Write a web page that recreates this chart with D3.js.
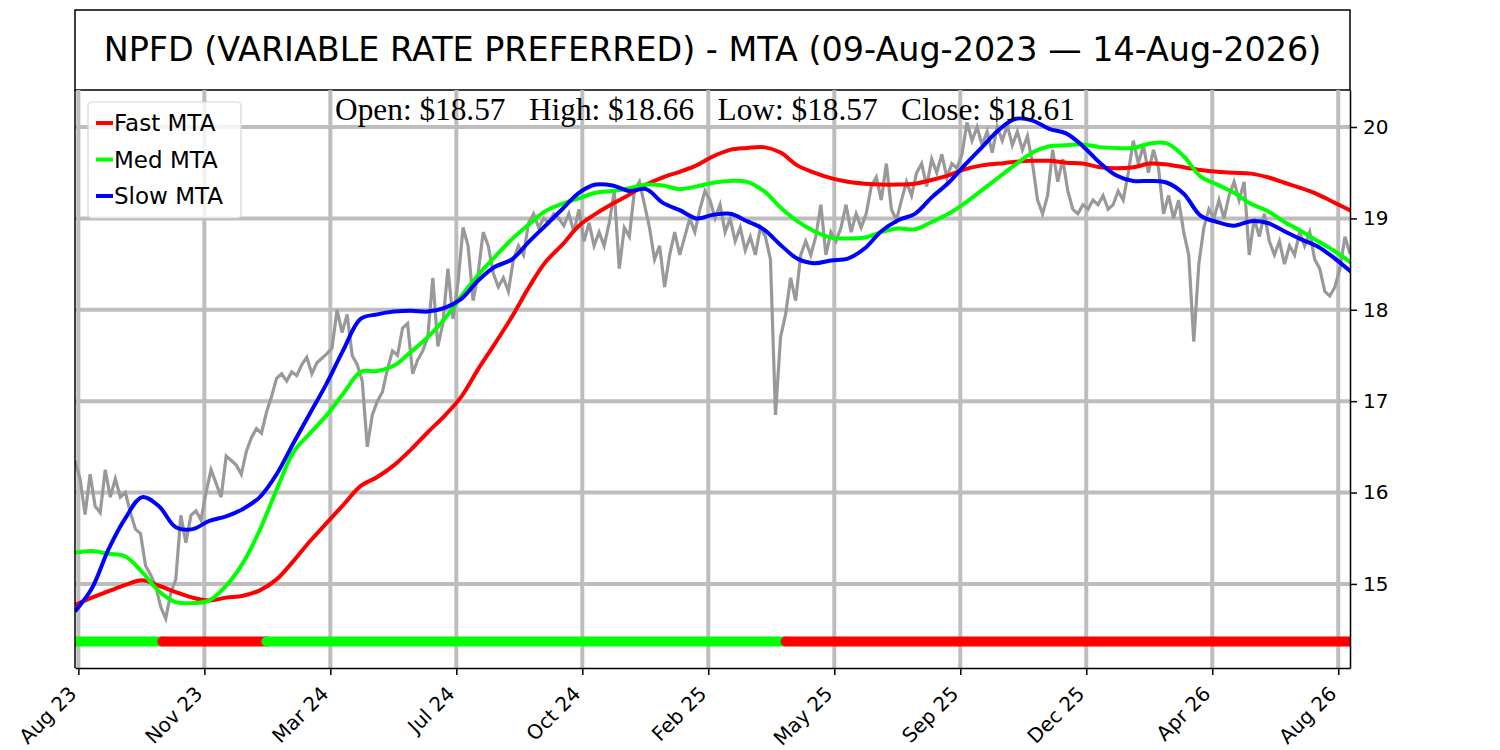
<!DOCTYPE html>
<html>
<head>
<meta charset="utf-8">
<script src="https://cdn.jsdelivr.net/npm/d3@7"></script>
<style>
  body { margin: 0; background: #fff; }
  text { font-family: 'DejaVu Sans', sans-serif; }
</style>
</head>
<body>
<div id="chart-area"></div>
<script>
// NPFD price (every 3rd trading day) and the three MTA lines (every 10th trading day)
const titleText = 'NPFD (VARIABLE RATE PREFERRED) - MTA (09-Aug-2023 \u2014 14-Aug-2026)'
const ohlcText = 'Open: $18.57   High: $18.66   Low: $18.57   Close: $18.61'

const tickDays = [2, 77, 152, 227, 302, 377, 452, 527, 602, 677, 752]
const tickLabels = ['Aug 23', 'Nov 23', 'Mar 24', 'Jul 24', 'Oct 24', 'Feb 25',
  'May 25', 'Sep 25', 'Dec 25', 'Apr 26', 'Aug 26']
const yTicks = [15, 16, 17, 18, 19, 20]

const priceStep = 3
const price = [
  16.35, 16.15, 15.76, 16.2, 15.85, 15.78, 16.25, 15.95, 16.15, 15.95,
  16.0, 15.78, 15.6, 15.55, 15.2, 15.1, 14.98, 14.75, 14.62, 14.9,
  15.05, 15.75, 15.45, 15.75, 15.8, 15.7, 16.0, 16.25, 16.1, 15.95,
  16.4, 16.35, 16.3, 16.2, 16.45, 16.6, 16.7, 16.65, 16.88, 17.05,
  17.25, 17.3, 17.22, 17.32, 17.28, 17.4, 17.48, 17.3, 17.42, 17.47,
  17.52, 17.58, 18.0, 17.75, 17.95, 17.5, 17.4, 17.22, 16.5, 16.85,
  17.0, 17.1, 17.35, 17.55, 17.5, 17.8, 17.85, 17.3, 17.45, 17.55,
  17.7, 18.35, 17.6, 17.85, 18.45, 17.9, 18.3, 18.9, 18.7, 18.1,
  18.4, 18.85, 18.7, 18.4, 18.25, 18.35, 18.2, 18.55, 18.7, 18.6,
  18.95, 19.05, 18.9, 19.0, 18.95, 19.05, 19.0, 18.92, 19.05, 18.85,
  19.1, 18.75, 18.95, 18.7, 18.85, 18.7, 18.95, 19.3, 18.45, 18.9,
  18.8, 19.3, 19.4, 19.15, 18.9, 18.55, 18.7, 18.25, 18.6, 18.85,
  18.6, 18.8, 19.0, 18.85, 19.1, 19.3, 19.2, 19.0, 19.15, 18.85,
  19.0, 18.75, 18.9, 18.65, 18.8, 18.6, 18.9, 18.8, 18.55, 16.85,
  17.7, 17.95, 18.35, 18.1, 18.6, 18.75, 18.6, 18.8, 19.15, 18.6,
  18.85, 18.75, 18.9, 19.15, 18.85, 19.05, 18.9, 19.05, 19.35, 19.45,
  19.2, 19.6, 19.1, 18.98, 19.2, 19.4, 19.25, 19.5, 19.6, 19.35,
  19.65, 19.5, 19.7, 19.45, 19.6, 19.55, 19.7, 20.05, 19.85, 20.0,
  19.8, 19.95, 19.72, 20.0, 19.85, 20.02, 19.8, 19.95, 19.75, 19.9,
  19.6, 19.2, 19.05, 19.25, 19.75, 19.4, 19.65, 19.3, 19.1, 19.05,
  19.15, 19.1, 19.2, 19.15, 19.25, 19.1, 19.15, 19.3, 19.2, 19.5,
  19.85, 19.6, 19.8, 19.5, 19.75, 19.55, 19.05, 19.25, 19.0, 19.2,
  18.85, 18.6, 17.65, 18.5, 18.9, 19.1, 19.0, 19.2, 19.0, 19.25,
  19.4, 19.2, 19.4, 18.6, 19.0, 18.8, 19.05, 18.75, 18.6, 18.75,
  18.5, 18.7, 18.6, 18.85, 18.7, 18.85, 18.55, 18.45, 18.2, 18.15,
  18.25, 18.45, 18.8, 18.61
]

const mtaStep = 10
const fastMta = [
  14.77, 14.85, 14.92, 14.99, 15.04, 14.98, 14.91, 14.85, 14.82, 14.85,
  14.87, 14.93, 15.05, 15.25, 15.47, 15.67, 15.87, 16.07, 16.17, 16.3,
  16.47, 16.66, 16.84, 17.05, 17.35, 17.63, 17.92, 18.24, 18.52, 18.71,
  18.92, 19.05, 19.16, 19.26, 19.37, 19.45, 19.51, 19.58, 19.68, 19.75,
  19.77, 19.78, 19.72, 19.58, 19.5, 19.44, 19.4, 19.38, 19.37, 19.37,
  19.38, 19.42, 19.47, 19.54, 19.58, 19.6, 19.62, 19.63, 19.63, 19.61,
  19.6, 19.56, 19.55, 19.56, 19.6, 19.59, 19.56, 19.53, 19.51, 19.5,
  19.49, 19.45, 19.39, 19.33, 19.26, 19.17, 19.08
]
const medMta = [
  15.34, 15.36, 15.33, 15.3, 15.13, 14.92, 14.8, 14.79, 14.82, 14.98,
  15.23, 15.59, 16.03, 16.44, 16.65, 16.85, 17.09, 17.32, 17.33, 17.39,
  17.54, 17.7, 17.9, 18.15, 18.38, 18.58, 18.77, 18.93, 19.08, 19.16,
  19.22, 19.28, 19.3, 19.33, 19.37, 19.36, 19.32, 19.35, 19.39, 19.41,
  19.4, 19.3, 19.12, 18.97, 18.86, 18.79, 18.78, 18.79, 18.85, 18.89,
  18.88, 18.96, 19.05, 19.17, 19.31, 19.45, 19.59, 19.72, 19.79, 19.8,
  19.81, 19.78, 19.77, 19.77, 19.82, 19.82, 19.68, 19.46, 19.37, 19.28,
  19.16, 19.08, 18.96, 18.86, 18.75, 18.64, 18.51
]
const slowMta = [
  14.7, 14.95, 15.38, 15.72, 15.95, 15.85, 15.62, 15.6, 15.69, 15.74,
  15.82, 15.95, 16.2, 16.54, 16.87, 17.2, 17.57, 17.9, 17.95, 17.98,
  17.99, 17.98, 18.02, 18.12, 18.32, 18.47, 18.55, 18.74, 18.92, 19.1,
  19.28, 19.37, 19.36, 19.3, 19.32, 19.17, 19.09, 19.0, 19.04, 19.05,
  18.97, 18.88, 18.71, 18.56, 18.51, 18.54, 18.56, 18.67, 18.86, 18.98,
  19.05, 19.23, 19.39, 19.59, 19.78, 19.97, 20.09, 20.07, 19.98, 19.93,
  19.79, 19.61, 19.47, 19.41, 19.41, 19.39, 19.27, 19.03, 18.96, 18.92,
  18.97, 18.95, 18.86, 18.77, 18.69, 18.56, 18.41
]

// trend signal strip along the bottom
const signalStart = [0, 52, 114, 423]
const signalEnd = [52, 114, 423, 760]
const signalState = ['up', 'down', 'up', 'down']
const signalLevel = 14.37

const seriesNames = ['Fast MTA', 'Med MTA', 'Slow MTA']
const seriesColors = ['#ff0000', '#00ff00', '#0000ff']

const margin = { top: 90, right: 150, bottom: 82, left: 75 }
const width = 1500 - margin.left - margin.right
const height = 750 - margin.top - margin.bottom

const svg = d3.select('#chart-area')
  .append('svg')
    .attr('width', 1500)
    .attr('height', 750)

// title box
svg.append('rect')
  .attr('x', margin.left)
  .attr('y', 10)
  .attr('width', width)
  .attr('height', margin.top - 10)
  .attr('fill', 'none')
  .attr('stroke', '#000')
  .attr('stroke-width', 1.5)

svg.append('text')
  .attr('x', margin.left + width / 2)
  .attr('y', 61)
  .attr('text-anchor', 'middle')
  .style('font-size', '33.4px')
  .text(titleText)

const g = svg.append('g')
  .attr('transform', `translate(${margin.left}, ${margin.top})`)

const x = d3.scaleLinear().domain([0, 759]).range([0, width])
const y = d3.scaleLinear().domain([14.08, 20.405]).range([height, 0])

g.append('clipPath').attr('id', 'plot-clip')
  .append('rect').attr('width', width).attr('height', height)

// grid
const grid = g.append('g').attr('stroke', '#bdbdbd').attr('stroke-width', 4)
grid.selectAll('.vgrid').data(tickDays).enter()
  .append('line')
    .attr('x1', d => x(d)).attr('x2', d => x(d))
    .attr('y1', 0).attr('y2', height)
grid.selectAll('.hgrid').data(yTicks).enter()
  .append('line')
    .attr('x1', 0).attr('x2', width)
    .attr('y1', d => y(d)).attr('y2', d => y(d))

const plot = g.append('g').attr('clip-path', 'url(#plot-clip)')

// price
const priceLine = d3.line()
  .x((d, i) => x(i * priceStep))
  .y(d => y(d))
plot.append('path')
  .datum(price)
  .attr('fill', 'none')
  .attr('stroke', '#999999')
  .attr('stroke-width', 3.2)
  .attr('d', priceLine)

// MTA lines
const mtaLine = d3.line()
  .x((d, i) => x(i * mtaStep))
  .y(d => y(d))
  .curve(d3.curveCatmullRom)
const mtas = [fastMta, medMta, slowMta]
plot.selectAll('.mta').data(mtas).enter()
  .append('path')
    .attr('fill', 'none')
    .attr('stroke', (d, i) => seriesColors[i])
    .attr('stroke-width', 4)
    .attr('d', mtaLine)

// signal strip
plot.selectAll('.signal').data(signalStart).enter()
  .append('line')
    .attr('x1', (d, i) => x(d))
    .attr('x2', (d, i) => x(signalEnd[i]))
    .attr('y1', y(signalLevel))
    .attr('y2', y(signalLevel))
    .attr('stroke', (d, i) => signalState[i] === 'up' ? '#00ff00' : '#ff0000')
    .attr('stroke-width', 10)
    .attr('stroke-linecap', 'round')

// left spine
g.append('line').attr('x1', 0).attr('x2', 0).attr('y1', 0).attr('y2', height)
  .attr('stroke', '#000').attr('stroke-width', 1.5)

// axes
const xAxisCall = d3.axisBottom(x)
  .tickValues(tickDays)
  .tickFormat((d, i) => tickLabels[i])
  .tickSize(7)
  .tickSizeOuter(0)
const xAxis = g.append('g')
  .attr('transform', `translate(0, ${height})`)
  .call(xAxisCall)
xAxis.select('.domain').attr('stroke-width', 1.5)
xAxis.selectAll('.tick line').attr('stroke-width', 1.5)
xAxis.selectAll('text')
  .style('font-size', '20px')
  .attr('fill', '#000')
  .attr('text-anchor', 'end')
  .attr('x', 0)
  .attr('y', 0)
  .attr('dy', '0.35em')
  .attr('transform', 'translate(-6, 22) rotate(-45)')

const yAxisCall = d3.axisRight(y)
  .tickValues(yTicks)
  .tickFormat(d3.format('d'))
  .tickSize(7)
  .tickPadding(6)
  .tickSizeOuter(0)
const yAxis = g.append('g')
  .attr('transform', `translate(${width}, 0)`)
  .call(yAxisCall)
yAxis.select('.domain').attr('stroke-width', 1.5)
yAxis.selectAll('.tick line').attr('stroke-width', 1.5)
yAxis.selectAll('text')
  .style('font-size', '20px')
  .attr('fill', '#000')

// OHLC readout
g.append('text')
  .attr('x', 630)
  .attr('y', 30)
  .attr('text-anchor', 'middle')
  .style('font-family', "'Liberation Serif', 'DejaVu Serif', serif")
  .style('font-size', '31.3px')
  .style('white-space', 'pre')
  .attr('xml:space', 'preserve')
  .text(ohlcText)

// legend
const legend = g.append('g').attr('transform', 'translate(13, 12)')
legend.append('rect')
  .attr('width', 153)
  .attr('height', 116)
  .attr('rx', 4)
  .attr('fill', '#fff')
  .attr('fill-opacity', 0.8)
  .attr('stroke', '#d6d6d6')
  .attr('stroke-width', 1.2)
const items = legend.selectAll('.item').data(seriesNames).enter()
  .append('g')
    .attr('transform', (d, i) => `translate(0, ${21 + i * 36.5})`)
items.append('line')
  .attr('x1', 8).attr('x2', 25)
  .attr('stroke', (d, i) => seriesColors[i])
  .attr('stroke-width', 4)
items.append('text')
  .attr('x', 26)
  .attr('dy', '0.36em')
  .style('font-size', '23px')
  .text(d => d)
</script>
</body>
</html>
